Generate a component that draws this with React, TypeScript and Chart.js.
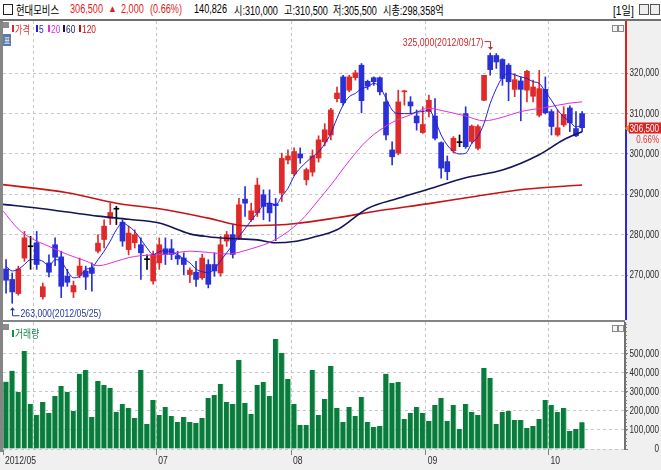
import React, { useEffect, useRef } from 'react';
import { Chart, registerables } from 'chart.js';

Chart.register(...registerables);

const LAT = "'Liberation Sans', Arial, sans-serif";
const KR = "'Noto Sans CJK KR', sans-serif";

// ---- daily candles (2012/05/24 .. 2012/10/10), prices in won ----
const opens = [
  271500, 268900, 265400, 274200, 277000, 278000, 264600, 273000, 277500, 274500,
  269700, 265800, 269900, 271000, 271800, 275900, 278800, 284100, 286300, 283100,
  276300, 278000, 277500, 273800, 268500, 273000, 276500, 276500, 274800, 274200,
  270100, 270700, 269300, 272600, 272600, 270500, 278400, 280000, 279200, 288800,
  283700, 285400, 289900, 287800, 287600, 290300, 298500, 295100, 300000, 293600,
  295500, 299000, 303000, 304700, 313700, 319100, 315800, 318900, 322000, 318000,
  318900, 318900, 312900, 301000, 300200, 315400, 312900, 309400, 305300, 310500,
  309400, 302800, 298100, 300800, 302800, 310000, 303100, 301400, 313300, 324400,
  324400, 323400, 322000, 316000, 318100, 315800, 314300, 309600, 316000, 310500,
  304700, 307200, 311400, 306300, 310000,
];
const highs = [
  273800, 270500, 272200, 280800, 279600, 280800, 268000, 275000, 279200, 275900,
  271400, 268500, 274200, 272200, 273000, 280000, 283700, 287800, 287000, 283700,
  282100, 281200, 279200, 275000, 275900, 279200, 279200, 278800, 275900, 275500,
  271800, 273400, 275100, 273800, 275500, 279600, 280800, 282500, 289000, 291900,
  287800, 294000, 291100, 291100, 289000, 300200, 301000, 301500, 301500, 296500,
  301000, 304500, 307500, 311300, 316600, 319500, 319500, 320700, 322400, 318300,
  319100, 319100, 315100, 303000, 315800, 315800, 314200, 310900, 311700, 314600,
  313700, 303000, 299500, 304300, 304700, 311700, 307200, 307200, 319500, 325000,
  324900, 323600, 322400, 319900, 319100, 320700, 318300, 320700, 319100, 311000,
  310900, 311700, 311900, 310500, 310500,
];
const lows = [
  265500, 263000, 265000, 273400, 271400, 271400, 264000, 269500, 272300, 264400,
  267200, 264400, 269300, 266400, 266000, 275500, 276700, 282500, 282500, 277100,
  275000, 276700, 268900, 271400, 267700, 271400, 272600, 273800, 272600, 270100,
  268100, 267200, 268900, 266800, 269700, 269700, 277100, 274200, 278800, 284500,
  283300, 284500, 283700, 283300, 278500, 288200, 297500, 294600, 297700, 292300,
  294500, 298000, 302000, 303500, 312900, 312100, 315400, 318300, 310200, 316000,
  317000, 314600, 303500, 297300, 299800, 312100, 310000, 305900, 305100, 309200,
  303500, 294000, 293600, 300300, 301800, 301400, 302600, 301000, 313200, 319500,
  321200, 317000, 313200, 314200, 308200, 312900, 312900, 309200, 309900, 304700,
  304400, 306800, 305500, 304300, 305500,
];
const closes = [
  268700, 265800, 271500, 279200, 277000, 272600, 267100, 270700, 274400, 267200,
  268200, 267400, 272200, 269500, 270400, 277900, 282100, 285500, 286300, 278400,
  280400, 280000, 275500, 273800, 275100, 277500, 275100, 275100, 274000, 272600,
  271200, 268900, 274200, 267700, 271000, 277500, 280000, 275100, 287400, 287800,
  285900, 292300, 287000, 285400, 287200, 298900, 299500, 300600, 299000, 296100,
  299500, 303500, 306000, 310900, 315100, 312700, 319100, 320100, 313200, 316800,
  317900, 315400, 304700, 299300, 312900, 315600, 311900, 307700, 307300, 313300,
  303900, 296500, 295600, 303900, 302800, 301800, 306900, 306800, 319500, 320900,
  322800, 318700, 317900, 318400, 316000, 320500, 316600, 316200, 310200, 306800,
  306500, 309800, 307700, 304500, 306500,
];
const volumes = [
  354000, 411000, 300000, 516000, 237000, 179000, 247000, 189000, 279000, 332000,
  300000, 200000, 396000, 416000, 168000, 358000, 337000, 321000, 196000, 237000,
  216000, 163000, 416000, 132000, 258000, 179000, 221000, 174000, 142000, 168000,
  142000, 137000, 163000, 268000, 284000, 342000, 247000, 237000, 468000, 242000,
  184000, 337000, 353000, 279000, 579000, 505000, 368000, 237000, 126000, 126000,
  416000, 179000, 263000, 437000, 216000, 142000, 221000, 174000, 274000, 142000,
  116000, 121000, 396000, 347000, 353000, 158000, 189000, 221000, 189000, 147000,
  232000, 268000, 147000, 232000, 105000, 237000, 195000, 179000, 426000, 374000,
  132000, 195000, 200000, 153000, 153000, 111000, 121000, 158000, 258000, 232000,
  195000, 216000, 95000, 105000, 140826,
];

// ---- moving averages ----
const ma5 = [
  272200, 271000, 271400, 272600, 273800, 273800, 273400, 272200, 273800, 273400,
  271000, 269300, 269700, 271400, 271800, 273800, 275900, 278400, 281200, 282900,
  282100, 280800, 278800, 276700, 275100, 275800, 276000, 275700, 275000, 274000,
  273000, 271500, 270800, 270600, 271500, 273500, 275500, 277500, 279500, 281500,
  283500, 285400, 287300, 287800, 287400, 289500, 291500, 294500, 296500, 298000,
  299300, 300500, 302500, 305100, 308800, 312100, 314200, 315000, 316200, 316600,
  317500, 316600, 313800, 310900, 310000, 310000, 310000, 310400, 310500, 310900,
  308400, 304700, 302200, 300600, 300000, 300200, 302600, 304300, 307600, 312500,
  316200, 319000, 320000, 319600, 319100, 318700, 317900, 317500, 315400, 313300,
  310900, 309200, 308000, 306700, 307200,
];
const ma20Idx = [-0.5, 2, 4, 7, 10, 13, 15, 18, 20, 22, 26, 30, 33, 36, 40, 44, 48, 51, 53, 56, 59, 63, 66, 69, 71, 75, 78, 81, 84, 88, 92, 94];
const ma20Val = [
  285900, 281400, 279200, 277100, 275100, 273500, 272300, 273400, 274300, 274800,
  275100, 275900, 275600, 275200, 276500, 278800, 283300, 288600, 292300, 298300,
  303500, 307800, 309700, 311300, 310800, 309400, 308200, 309100, 310500, 311500,
  312600, 312900,
];
const ma60Idx = [-0.5, 5, 10, 15, 20, 25, 30, 33, 36, 41, 44, 47, 50, 54, 59, 64, 69, 75, 81, 87, 91, 94];
const ma60Val = [
  287500, 286600, 285600, 284600, 283800, 282900, 280200, 279500, 279100, 278700,
  278000, 278300, 279300, 281200, 286500, 289000, 291300, 294100, 296000, 299800,
  303500, 305500,
];
const ma120Idx = [-0.5, 10, 18, 25, 33, 39, 44, 47, 54, 61, 69, 77, 85, 94];
const ma120Val = [
  292400, 290400, 287800, 286400, 284100, 282200, 282400, 282700, 284200, 286000,
  287700, 289600, 291300, 292300,
];

// ---- axes ----
const monthBounds = [-0.5, 4.5, 24.5, 46.5, 68.5, 88.5];
const monthLabels = ['2012/05', '', '07', '08', '09', '10'];
const priceTicks = [270000, 280000, 290000, 300000, 310000, 320000];
const volumeTicks = [0, 100000, 200000, 300000, 400000, 500000];
const highDate = '2012/09/17';
const lowDate = '2012/05/25';

const X_MIN = -0.5;
const X_MAX = 101;
const PRICE_MIN = 258850;
const PRICE_MAX = 332950;
const VOL_MAX = 668000;

const UP = '#E02A2A';
const DOWN = '#2A30D6';
const FLAT = '#000000';
const MA5C = '#1E1EE0';
const MA20C = '#E030E0';
const MA60C = '#141458';
const MA120C = '#C41414';
const VOLC = '#0B7A3D';
const VOLEDGE = '#8AD8A2';
const GRID = '#C6C6C6';
const AXIS_TEXT = '#2A2A2A';

const fmt = (v: number) => Number(v).toLocaleString('en-US');

function narrowText(ctx: any, text: string, x: number, y: number, align: string, sx: number, font: string, color: string) {
  ctx.save();
  ctx.translate(x, y);
  ctx.scale(sx, 1);
  ctx.font = font;
  ctx.fillStyle = color;
  ctx.textAlign = align;
  ctx.textBaseline = 'middle';
  ctx.fillText(text, 0, 0);
  ctx.restore();
}

const whiteArea = {
  id: 'whiteArea',
  beforeDraw(chart: any) {
    const { ctx, chartArea: a } = chart;
    ctx.save();
    ctx.fillStyle = '#FFFFFF';
    ctx.fillRect(a.left, a.top, a.right - a.left, a.bottom - a.top);
    ctx.restore();
  },
};

// y-axis tick labels, drawn at the scale's own tick positions
const yLabels = {
  id: 'yLabels',
  afterDraw(chart: any) {
    const { ctx, chartArea: a, scales } = chart;
    const y = scales.y;
    y.ticks.forEach((t: any) => {
      const py = y.getPixelForValue(t.value);
      narrowText(ctx, fmt(t.value), a.right + 34, py, 'right', 0.74, `11px ${LAT}`, AXIS_TEXT);
    });
  },
};

const xLabels = {
  id: 'xLabels',
  afterDraw(chart: any) {
    const { ctx, chartArea: a, scales } = chart;
    const x = scales.x;
    x.ticks.forEach((t: any, i: number) => {
      const label = monthLabels[i];
      if (!label) return;
      const px = x.getPixelForValue(t.value);
      narrowText(ctx, label, Math.max(px, a.left) + 2, a.bottom + 12, 'left', 0.78, `11px ${LAT}`, AXIS_TEXT);
    });
  },
};

const priceOverlay = {
  id: 'priceOverlay',
  afterDraw(chart: any) {
    const { ctx, chartArea: a, scales } = chart;
    const x = scales.x;
    const y = scales.y;
    const last = closes.length - 1;
    const cur = closes[last];
    const prev = closes[last - 1];
    const yc = Math.round(y.getPixelForValue(cur)) + 0.5;
    ctx.save();
    // axis line: red above the current price, blue below
    ctx.lineWidth = 2;
    ctx.strokeStyle = '#E02020';
    ctx.beginPath();
    ctx.moveTo(a.right + 1, a.top);
    ctx.lineTo(a.right + 1, yc);
    ctx.stroke();
    ctx.strokeStyle = '#2A2ADA';
    ctx.beginPath();
    ctx.moveTo(a.right + 1, yc);
    ctx.lineTo(a.right + 1, a.bottom);
    ctx.stroke();
    // current price tag
    ctx.fillStyle = '#D92424';
    ctx.fillRect(a.right + 4, yc - 6, 32, 11);
    ctx.fillStyle = '#F08020';
    ctx.beginPath();
    ctx.moveTo(a.right, yc);
    ctx.lineTo(a.right + 4, yc - 4);
    ctx.lineTo(a.right + 4, yc + 4);
    ctx.closePath();
    ctx.fill();
    ctx.restore();
    narrowText(ctx, fmt(cur), a.right + 34, yc, 'right', 0.74, `11px ${LAT}`, '#FFFFFF');
    const pct = (((cur - prev) / prev) * 100).toFixed(2) + '%';
    narrowText(ctx, pct, a.right + 34, yc + 12, 'right', 0.8, `10px ${LAT}`, '#E03A3A');

    // highest high / lowest low annotations
    let hi = 0;
    let lo = 0;
    highs.forEach((v, i) => { if (v > highs[hi]) hi = i; });
    lows.forEach((v, i) => { if (v < lows[lo]) lo = i; });
    const hx = Math.round(x.getPixelForValue(hi)) + 0.5;
    const hy = y.getPixelForValue(highs[hi]);
    narrowText(ctx, `${fmt(highs[hi])}(${highDate})`, hx - 7, hy - 10, 'right', 0.79, `11px ${LAT}`, '#D02828');
    ctx.save();
    ctx.strokeStyle = '#D02828';
    ctx.fillStyle = '#D02828';
    ctx.lineWidth = 1;
    ctx.beginPath();
    ctx.moveTo(hx - 6, hy - 11.5);
    ctx.lineTo(hx, hy - 11.5);
    ctx.lineTo(hx, hy - 5);
    ctx.stroke();
    ctx.beginPath();
    ctx.moveTo(hx - 2.5, hy - 6);
    ctx.lineTo(hx + 2.5, hy - 6);
    ctx.lineTo(hx, hy - 3);
    ctx.closePath();
    ctx.fill();
    ctx.restore();

    const lx = Math.round(x.getPixelForValue(lo)) + 0.5;
    const ly = y.getPixelForValue(lows[lo]);
    narrowText(ctx, `${fmt(lows[lo])}(${lowDate})`, lx + 8, ly + 11, 'left', 0.79, `11px ${LAT}`, '#26389E');
    ctx.save();
    ctx.strokeStyle = '#26389E';
    ctx.fillStyle = '#26389E';
    ctx.lineWidth = 1;
    ctx.beginPath();
    ctx.moveTo(lx + 7, ly + 12.5);
    ctx.lineTo(lx, ly + 12.5);
    ctx.lineTo(lx, ly + 6);
    ctx.stroke();
    ctx.beginPath();
    ctx.moveTo(lx - 2.5, ly + 7);
    ctx.lineTo(lx + 2.5, ly + 7);
    ctx.lineTo(lx, ly + 4);
    ctx.closePath();
    ctx.fill();
    ctx.restore();
  },
};

const volOverlay = {
  id: 'volOverlay',
  afterDraw(chart: any) {
    const { ctx, chartArea: a, scales } = chart;
    const y = scales.y;
    ctx.save();
    ctx.strokeStyle = '#808080';
    ctx.lineWidth = 1;
    for (let v = 0; v <= VOL_MAX; v += 20000) {
      const py = Math.round(y.getPixelForValue(v)) + 0.5;
      ctx.beginPath();
      ctx.moveTo(a.right, py);
      ctx.lineTo(a.right + 2, py);
      ctx.stroke();
    }
    ctx.restore();
  },
};

const xAxis = (labels: boolean) => ({
  type: 'linear' as const,
  min: X_MIN,
  max: X_MAX,
  offset: false,
  afterBuildTicks: (s: any) => {
    s.ticks = monthBounds.map((v) => ({ value: v }));
  },
  afterFit: (s: any) => {
    s.height = labels ? 21 : 0;
    s.paddingLeft = 0;
    s.paddingRight = 0;
  },
  ticks: { display: false },
  grid: {
    offset: false,
    drawTicks: labels,
    tickLength: 6,
    color: (c: any) => (c.index === 0 ? 'rgba(0,0,0,0)' : GRID),
    tickColor: (c: any) => (c.index === 1 ? 'rgba(0,0,0,0)' : '#808080'),
  },
  border: { display: false, dash: [3, 3] },
});

const yAxis = (min: number, max: number, ticks: number[], showBorder: boolean) => ({
  position: 'right' as const,
  min,
  max,
  beginAtZero: false,
  afterBuildTicks: (s: any) => {
    s.ticks = ticks.map((v) => ({ value: v }));
  },
  afterFit: (s: any) => {
    s.width = 36;
    s.paddingTop = 0;
    s.paddingBottom = 0;
  },
  ticks: { display: false },
  grid: { color: GRID, tickColor: '#808080', tickLength: 3, drawTicks: true },
  border: { display: showBorder, color: '#707070', width: 2, dash: [3, 3] },
});

const abs = (o: React.CSSProperties): React.CSSProperties => ({ position: 'absolute', whiteSpace: 'nowrap', ...o });

function Txt(props: { x: number; y: number; size: number; color: string; font?: string; sx?: number; children: React.ReactNode }) {
  const { x, y, size, color, font = LAT, sx = 0.76, children } = props;
  return (
    <span
      style={abs({
        left: x,
        top: y,
        fontSize: size,
        lineHeight: `${size + 3}px`,
        fontFamily: font,
        color,
        transform: `scaleX(${sx})`,
        transformOrigin: '0 50%',
      })}
    >
      {children}
    </span>
  );
}

const K = (p: { children: React.ReactNode }) => <span style={{ fontFamily: KR }}>{p.children}</span>;

export default function App() {
  const priceRef = useRef<HTMLCanvasElement | null>(null);
  const volRef = useRef<HTMLCanvasElement | null>(null);

  useEffect(() => {
    document.body.style.margin = '0';
    document.body.style.overflow = 'hidden';
    const idx = closes.map((_, i) => i);
    const colors = closes.map((c, i) => (c > opens[i] ? UP : c < opens[i] ? DOWN : FLAT));
    const line = (xs: number[], ys: number[], color: string, width: number, order: number) => ({
      type: 'line' as const,
      data: xs.map((xv, i) => ({ x: xv, y: ys[i] })),
      borderColor: color,
      borderWidth: width,
      pointRadius: 0,
      fill: false,
      cubicInterpolationMode: 'monotone' as const,
      order,
    });

    const price = new Chart(priceRef.current as HTMLCanvasElement, {
      type: 'bar',
      data: {
        datasets: [
          {
            type: 'bar',
            data: idx.map((i) => ({ x: i, y: [lows[i], highs[i]] })),
            backgroundColor: colors,
            barThickness: 1,
            grouped: false,
            borderWidth: 0,
            order: 10,
          } as any,
          {
            type: 'bar',
            data: idx.map((i) => ({ x: i, y: [opens[i], closes[i]] })),
            backgroundColor: colors,
            barThickness: 5,
            minBarLength: 1,
            grouped: false,
            borderWidth: 0,
            order: 9,
          } as any,
          line(ma120Idx, ma120Val, MA120C, 1.6, 4),
          line(ma60Idx, ma60Val, MA60C, 1.6, 3),
          line(ma20Idx, ma20Val, MA20C, 1, 2),
          line(idx, ma5, MA5C, 1, 1),
        ] as any,
      },
      options: {
        animation: false,
        responsive: false,
        maintainAspectRatio: false,
        layout: { padding: 0 },
        plugins: { legend: { display: false }, tooltip: { enabled: false } },
        scales: {
          x: xAxis(false) as any,
          y: yAxis(PRICE_MIN, PRICE_MAX, priceTicks, false) as any,
        },
      },
      plugins: [whiteArea, yLabels, priceOverlay],
    });

    const vol = new Chart(volRef.current as HTMLCanvasElement, {
      type: 'bar',
      data: {
        datasets: [
          {
            data: idx.map((i) => ({ x: i, y: volumes[i] })),
            backgroundColor: VOLC,
            borderColor: VOLEDGE,
            borderWidth: { top: 0, right: 1, bottom: 0, left: 0 },
            borderSkipped: false,
            barThickness: 5.5,
            grouped: false,
          } as any,
        ],
      },
      options: {
        animation: false,
        responsive: false,
        maintainAspectRatio: false,
        layout: { padding: 0 },
        plugins: { legend: { display: false }, tooltip: { enabled: false } },
        scales: {
          x: xAxis(true) as any,
          y: yAxis(0, VOL_MAX, volumeTicks, true) as any,
        },
      },
      plugins: [whiteArea, yLabels, xLabels, volOverlay],
    });

    return () => {
      price.destroy();
      vol.destroy();
    };
  }, []);

  const smallBox = (left: number, top: number): React.CSSProperties =>
    abs({ left, top, width: 4, height: 5, border: '1px solid #8A8A8A', background: '#F4F4F4' });
  const mark = (left: number, top: number, color: string): React.CSSProperties =>
    abs({ left, top, width: 2, height: 7, background: color });

  return (
    <div style={{ position: 'relative', width: 661, height: 470, overflow: 'hidden', background: '#F0F0F0', fontFamily: LAT }}>
      {/* header */}
      <div style={abs({ left: 0, top: 0, width: 661, height: 19, background: '#FFFFFF', borderBottom: '2px solid #707070' })}>
        <div style={abs({ left: 3, top: 4, width: 8, height: 9, border: '1px solid #222', background: '#FFF' })} />
        <Txt x={16} y={2} size={12} color="#000" font={KR} sx={0.78}>현대모비스</Txt>
        <Txt x={70} y={2} size={12} color="#E0201A">306,500</Txt>
        <Txt x={108} y={2} size={10} color="#E0201A" sx={0.9}>▲</Txt>
        <Txt x={121} y={2} size={12} color="#E0201A">2,000</Txt>
        <Txt x={150} y={2} size={12} color="#E0201A">(0.66%)</Txt>
        <Txt x={194} y={2} size={12} color="#000">140,826</Txt>
        <Txt x={234} y={2} size={12} color="#000"><K>시</K>:310,000</Txt>
        <Txt x={284} y={2} size={12} color="#000"><K>고</K>:310,500</Txt>
        <Txt x={333} y={2} size={12} color="#000"><K>저</K>:305,500</Txt>
        <Txt x={383} y={2} size={12} color="#000"><K>시총</K>:298,358<K>억</K></Txt>
        <Txt x={613} y={2} size={12} color="#000" sx={0.85}>[1<K>일</K>]</Txt>
        <div style={abs({ left: 639, top: 4, width: 8, height: 9, border: '1px solid #555', background: '#EEE' })} />
        <div style={abs({ left: 650, top: 4, width: 8, height: 9, border: '1px solid #555', background: '#EEE' })} />
      </div>

      {/* left frame */}
      <div style={abs({ left: 0, top: 21, width: 3, height: 431, background: '#858585' })} />

      <canvas ref={priceRef} width={658} height={299} style={abs({ left: 3, top: 21, width: 658, height: 299 })} />
      <div style={abs({ left: 0, top: 320, width: 625, height: 2, background: '#858585' })} />
      <canvas ref={volRef} width={658} height={148} style={abs({ left: 3, top: 322, width: 658, height: 148 })} />

      {/* price pane legend */}
      <div style={abs({ left: 3, top: 22, width: 6, height: 6, background: '#8C8C8C' })} />
      <div style={mark(12, 25, '#E02A2A')} />
      <Txt x={15} y={22} size={11} color="#E02A2A" font={KR} sx={0.74}>가격</Txt>
      <div style={mark(36, 25, '#2020E0')} />
      <Txt x={39} y={22} size={11} color="#2020E0">5</Txt>
      <div style={mark(48, 25, '#E030E0')} />
      <Txt x={51} y={22} size={11} color="#E030E0">20</Txt>
      <div style={mark(63, 25, '#141458')} />
      <Txt x={66} y={22} size={11} color="#141458">60</Txt>
      <div style={mark(79, 25, '#C41414')} />
      <Txt x={82} y={22} size={11} color="#C41414">120</Txt>
      <div
        style={abs({
          left: 3, top: 34, width: 8, height: 12, background: '#5B7BA8', color: '#FFF',
          fontFamily: KR, fontSize: 7, lineHeight: '12px', textAlign: 'center',
        })}
      >
        표
      </div>
      <div style={smallBox(612, 25)} />
      <div style={smallBox(618, 25)} />

      {/* volume pane legend */}
      <div style={abs({ left: 3, top: 324, width: 6, height: 6, background: '#8C8C8C' })} />
      <div style={mark(12, 330, '#178A48')} />
      <Txt x={15} y={326} size={11} color="#178A48" font={KR} sx={0.8}>거래량</Txt>
      <div style={smallBox(612, 325)} />
      <div style={smallBox(618, 325)} />
    </div>
  );
}
